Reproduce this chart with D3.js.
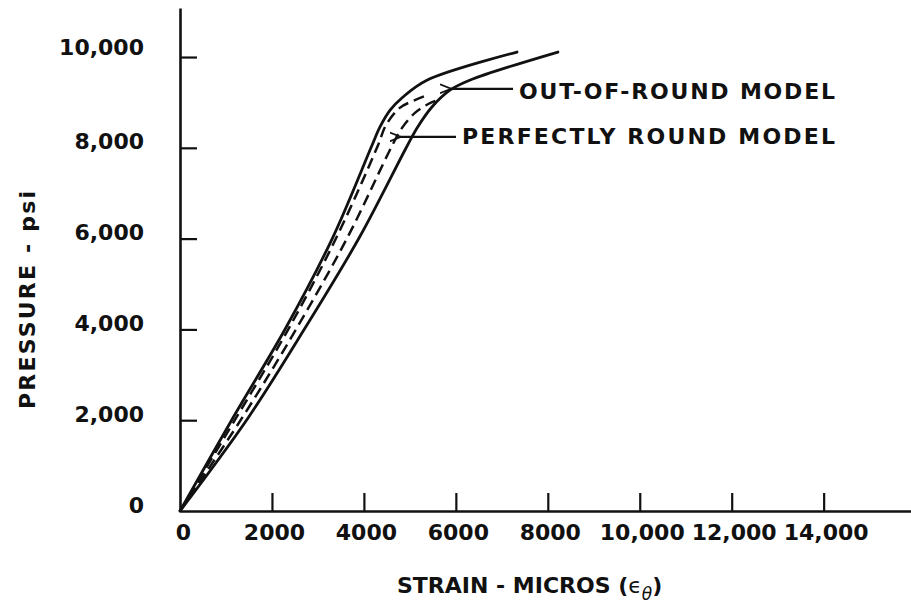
<!DOCTYPE html>
<html>
<head>
<meta charset="utf-8">
<script src="https://cdn.jsdelivr.net/npm/d3@7"></script>
<style>
  body { margin: 0; background: #fff; }
  text { font-family: "DejaVu Sans", sans-serif; font-weight: bold; fill: #111; }
</style>
</head>
<body>
<div id="main"></div>
<script>
var ctx = {
    w: 911,
    h: 606,
};

// tick values
const strainTicks = [0, 2000, 4000, 6000, 8000, 10000, 12000, 14000];
const pressureTicks = [0, 2000, 4000, 6000, 8000, 10000];

// [strain (micros), pressure (psi)]
const outOfRoundA = [[0,0],[1150,2050],[2300,4030],[3330,6040],[4170,8040],[4350,8460],[4570,8830],[4850,9120],[5370,9490],[7330,10110]];
const outOfRoundB = [[0,0],[1480,2050],[2720,4030],[3910,6040],[4940,8040],[5170,8460],[5480,8900],[5870,9270],[6300,9490],[8220,10110]];
const roundA = [[0,0],[1220,2050],[2370,4030],[3410,6040],[4300,8040],[4480,8500],[4780,8880],[5110,9050],[5430,9180]];
const roundB = [[0,0],[1350,2050],[2540,4030],[3650,6040],[4610,8040],[4830,8440],[5110,8770],[5390,8960],[5650,9070]];

var createViz = function(){
    var svgEl = d3.select("#main").append("svg")
        .attr("width", ctx.w)
        .attr("height", ctx.h);
    svgEl.append("rect")
        .attr("width", "100%")
        .attr("height", "100%")
        .attr("fill", "#fff");

    var x = d3.scaleLinear().domain([0, 15900]).range([180, 911]);
    var y = d3.scaleLinear().domain([0, 11080]).range([511, 8]);

    // x axis, ticks pointing up
    var xAxis = d3.axisBottom(x)
        .tickValues(strainTicks)
        .tickSizeInner(-18)
        .tickSizeOuter(0)
        .tickPadding(13)
        .tickFormat(d => d >= 10000 ? d3.format(",")(d) : String(d));
    var gx = svgEl.append("g")
        .attr("transform", `translate(0,${y(0)})`)
        .call(xAxis);
    gx.selectAll(".tick").filter(d => d === 0).select("line").remove();
    gx.selectAll(".tick text").attr("font-size", 22).attr("font-family", "DejaVu Sans")
        .attr("dx", d => d === 0 ? 3 : 2);

    // y axis, ticks pointing right
    var yAxis = d3.axisLeft(y)
        .tickValues(pressureTicks)
        .tickSizeInner(-17)
        .tickSizeOuter(0)
        .tickPadding(36)
        .tickFormat(d3.format(","));
    var gy = svgEl.append("g")
        .attr("transform", `translate(${x(0)},0)`)
        .call(yAxis);
    gy.selectAll(".tick").filter(d => d === 0).select("line").remove();
    gy.selectAll(".tick text").attr("font-size", 22).attr("font-family", "DejaVu Sans")
        .attr("dy", d => d === 10000 ? "-0.12em" : "0.05em");

    svgEl.selectAll(".domain").attr("stroke", "#111").attr("stroke-width", 2.6);
    svgEl.selectAll(".tick line").attr("stroke", "#111").attr("stroke-width", 2.2);

    // curves
    var line = d3.line()
        .x(d => x(d[0]))
        .y(d => y(d[1]))
        .curve(d3.curveCatmullRom.alpha(0.5));
    var curvesG = svgEl.append("g").attr("id", "curves");
    [outOfRoundA, outOfRoundB].forEach(function(s){
        curvesG.append("path").attr("d", line(s))
            .attr("fill", "none").attr("stroke", "#111").attr("stroke-width", 2.8)
            .attr("stroke-linecap", "round");
    });
    [roundA, roundB].forEach(function(s){
        curvesG.append("path").attr("d", line(s))
            .attr("fill", "none").attr("stroke", "#111").attr("stroke-width", 2.5)
            .attr("stroke-dasharray", "11,6");
    });

    // leaders + labels
    svgEl.append("defs").append("marker")
        .attr("id", "arr").attr("viewBox", "0 0 10 10")
        .attr("refX", 1).attr("refY", 5)
        .attr("markerWidth", 5).attr("markerHeight", 5)
        .attr("orient", "auto-start-reverse")
        .append("path").attr("d", "M10,1 L0,5 L10,9").attr("fill", "none")
        .attr("stroke", "#111").attr("stroke-width", 1.6);

    var notes = [
        {label: "OUT-OF-ROUND  MODEL", pt: [5870, 9300], tx: 519, ty: 99, len: 316},
        {label: "PERFECTLY  ROUND  MODEL", pt: [4780, 8240], tx: 462, ty: 144, len: 373},
    ];
    notes.forEach(function(n){
        var ly = y(n.pt[1]);
        svgEl.append("line")
            .attr("x1", n.tx - 6).attr("y1", ly)
            .attr("x2", x(n.pt[0])).attr("y2", ly)
            .attr("stroke", "#111").attr("stroke-width", 2.2)
            .attr("marker-end", "url(#arr)");
        svgEl.append("text")
            .attr("x", n.tx).attr("y", n.ty)
            .attr("font-size", 22)
            .attr("textLength", n.len).attr("lengthAdjust", "spacing")
            .text(n.label);
    });

    // axis titles
    svgEl.append("text")
        .attr("transform", "translate(35,300) rotate(-90)")
        .attr("text-anchor", "middle")
        .attr("font-size", 22)
        .attr("textLength", 218).attr("lengthAdjust", "spacing")
        .text("PRESSURE  - psi");

    var xt = svgEl.append("text")
        .attr("x", 397).attr("y", 593)
        .attr("font-size", 22);
    xt.append("tspan").text("STRAIN - MICROS (");
    xt.append("tspan").attr("font-weight", "normal").text("\u03f5");
    xt.append("tspan").attr("font-size", 17).attr("dy", 7).attr("font-weight", "normal").attr("font-style", "italic").text("\u03b8");
    xt.append("tspan").attr("dy", -7).text(")");
};

createViz();
</script>
</body>
</html>
